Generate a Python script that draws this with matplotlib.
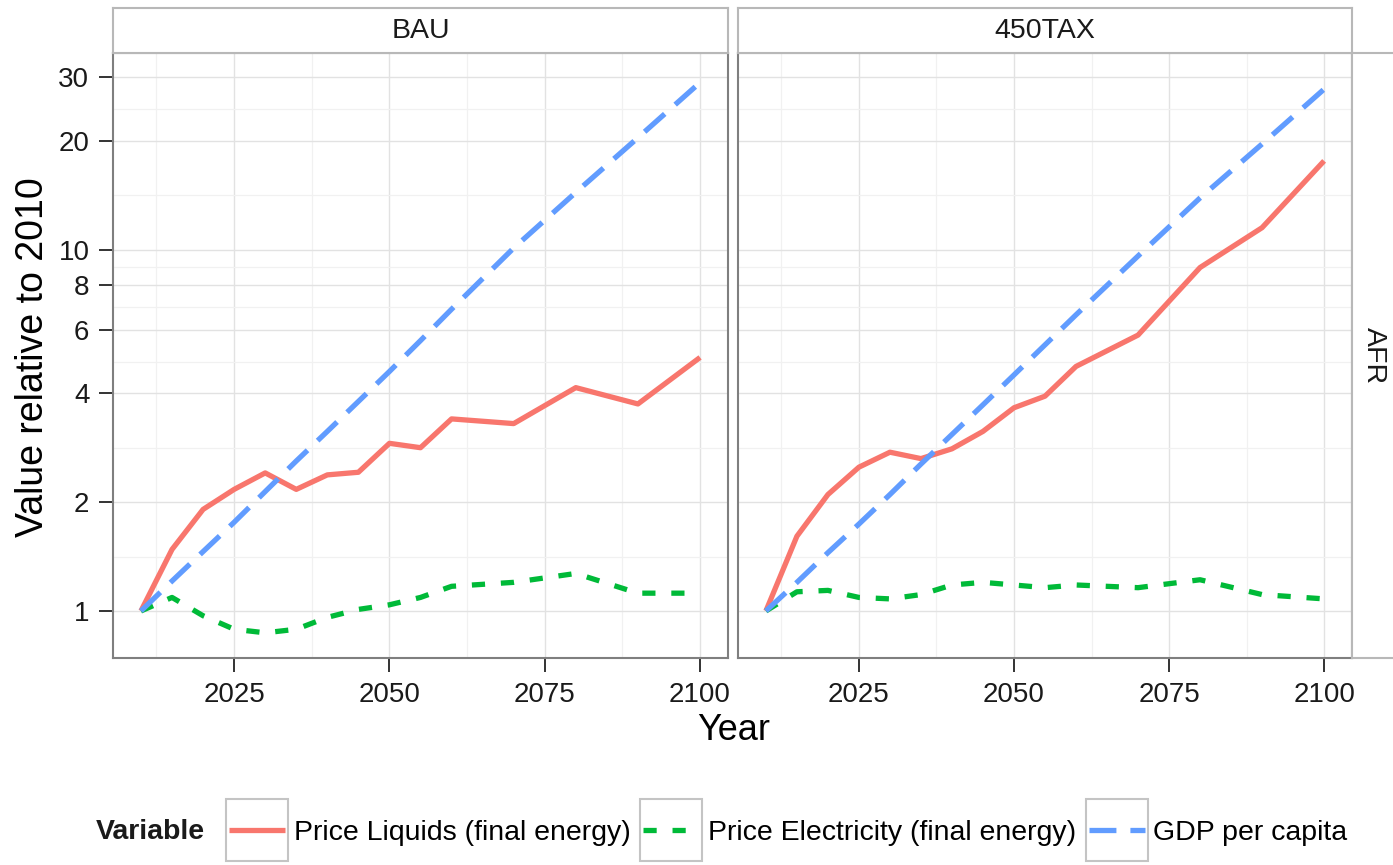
import matplotlib
matplotlib.use("Agg")
import matplotlib.pyplot as plt
from matplotlib.patches import Rectangle
from matplotlib.legend_handler import HandlerLine2D
from matplotlib.lines import Line2D
from matplotlib.ticker import NullFormatter

plt.rcParams['font.family'] = ['Liberation Sans', 'DejaVu Sans']

# data (value relative to 2010)
years = [2010, 2015, 2020, 2025, 2030, 2035, 2040, 2045, 2050, 2055, 2060, 2070, 2080, 2090, 2100]

bau_liquids = [1.0, 1.48, 1.91, 2.17, 2.41, 2.17, 2.38, 2.42, 2.91, 2.83, 3.40, 3.30, 4.15, 3.74, 5.03]
bau_elec = [1.0, 1.09, 0.97, 0.89, 0.87, 0.89, 0.96, 1.01, 1.04, 1.09, 1.17, 1.20, 1.27, 1.12, 1.12]
bau_gdp = [1.0, 1.21, 1.46, 1.76, 2.14, 2.60, 3.14, 3.80, 4.60, 5.60, 6.84, 10.1, 14.4, 20.4, 29.0]

tax_liquids = [1.0, 1.61, 2.10, 2.50, 2.75, 2.64, 2.81, 3.14, 3.65, 3.93, 4.75, 5.80, 8.92, 11.5, 17.6]
tax_elec = [1.0, 1.13, 1.14, 1.09, 1.08, 1.11, 1.18, 1.20, 1.18, 1.16, 1.18, 1.16, 1.22, 1.11, 1.08]
tax_gdp = [1.0, 1.20, 1.45, 1.74, 2.10, 2.55, 3.08, 3.72, 4.50, 5.45, 6.60, 9.60, 13.9, 19.6, 27.8]

scenarios = ['BAU', '450TAX']
region = 'AFR'
variables = ['Price Liquids (final energy)', 'Price Electricity (final energy)', 'GDP per capita']
colors = ['#F8766D', '#00BA38', '#619CFF']
styles = ['-', (0, (2.5, 3.0)), (0, (5.1, 2.65))]

series = {
    'BAU': [bau_liquids, bau_elec, bau_gdp],
    '450TAX': [tax_liquids, tax_elec, tax_gdp],
}

ytick_vals = [1, 2, 4, 6, 8, 10, 20, 30]
xtick_vals = [2025, 2050, 2075, 2100]
xminor = [2012.5, 2037.5, 2062.5, 2087.5]
yminor = [(a * b) ** 0.5 for a, b in zip(ytick_vals[:-1], ytick_vals[1:])]

W, H = 1393, 865
LW = 3.8  # points


def box(x0, y0, x1, y1):
    return [x0 / W, 1 - y1 / H, (x1 - x0) / W, (y1 - y0) / H]


fig = plt.figure(figsize=(W / 100, H / 100), dpi=100)

panel_px = [(113, 728), (738, 1352)]
top, bottom = 53, 658
tick_color = '#1a1a1a'
border = '#7f7f7f'

axes = []
for i, (scen, (x0, x1)) in enumerate(zip(scenarios, panel_px)):
    ax = fig.add_axes(box(x0, top, x1, bottom))
    ax.set_yscale('log')
    ax.set_xlim(2005.5, 2104.5)
    ax.set_ylim(0.741, 35.0)
    for vals, c, ls in zip(series[scen], colors, styles):
        ax.plot(years, vals, color=c, lw=LW, ls=ls, solid_capstyle='butt',
                dash_capstyle='butt', zorder=3)
    ax.set_xticks(xtick_vals, labels=[str(v) for v in xtick_vals])
    ax.set_xticks(xminor, minor=True)
    ax.set_yticks(ytick_vals, labels=[str(v) for v in ytick_vals])
    ax.set_yticks(yminor, minor=True)
    ax.yaxis.set_minor_formatter(NullFormatter())
    ax.grid(which='major', color='#e2e2e2', lw=1.0, zorder=0)
    ax.grid(which='minor', color='#f1f1f1', lw=0.9, zorder=0)
    ax.set_axisbelow(True)
    ax.tick_params(which='major', length=10, width=1.4, color='#333333',
                   labelsize=20, labelcolor=tick_color, pad=7)
    ax.tick_params(which='minor', length=0)
    for s in ax.spines.values():
        s.set_color(border)
        s.set_linewidth(1.5)
    if i > 0:
        ax.tick_params(axis='y', which='both', length=0, labelleft=False)
    axes.append(ax)

    # top strip
    st = fig.add_axes(box(x0, 8, x1, top))
    st.set_xticks([])
    st.set_yticks([])
    st.set_facecolor('white')
    for s in st.spines.values():
        s.set_color('#b8b8b8')
        s.set_linewidth(1.5)
    st.text(0.5, 0.5, scen, ha='center', va='center', fontsize=20.5,
            color=tick_color, transform=st.transAxes)

# right strip
rs = fig.add_axes(box(1352, top, 1400, bottom))
rs.set_xticks([])
rs.set_yticks([])
rs.set_facecolor('white')
for s in rs.spines.values():
    s.set_color('#b8b8b8')
    s.set_linewidth(1.5)
rs.text(0.45, 0.5, region, ha='center', va='center', rotation=-90, fontsize=20.5,
        color=tick_color, transform=rs.transAxes)

fig.text(734 / W, 1 - 731 / H, 'Year', ha='center', va='center', fontsize=26)
fig.text(33 / W, 1 - 357 / H, 'Value relative to 2010', ha='center', va='center',
         rotation=90, fontsize=27)


class BoxedLine(HandlerLine2D):
    def create_artists(self, legend, orig_handle, xdescent, ydescent, width,
                       height, fontsize, trans):
        arts = super().create_artists(legend, orig_handle, xdescent, ydescent,
                                      width, height, fontsize, trans)
        pad = 2.2
        bh = 44.0
        cy = (height - ydescent) / 2
        rect = Rectangle((-xdescent - pad, cy - bh / 2), width + 2 * pad, bh,
                         fill=False, edgecolor='#c4c4c4', lw=1.5,
                         transform=trans)
        return [rect] + arts


handles = [Line2D([], [], color=c, lw=LW, ls=ls, solid_capstyle='butt',
                  dash_capstyle='butt') for c, ls in zip(colors, styles)]
fig.text(96 / W, 1 - 832 / H, 'Variable', fontweight='bold', ha='left',
         va='center', fontsize=20.5, color=tick_color)
fig.legend(handles, variables, ncol=3, loc='center left',
           bbox_to_anchor=(229 / W, 1 - 833 / H), frameon=False,
           fontsize=20.5, handlelength=1.97, handletextpad=0.3,
           columnspacing=0.45, borderpad=0, borderaxespad=0,
           handler_map={Line2D: BoxedLine()})

fig.savefig('out.png', dpi=100)
